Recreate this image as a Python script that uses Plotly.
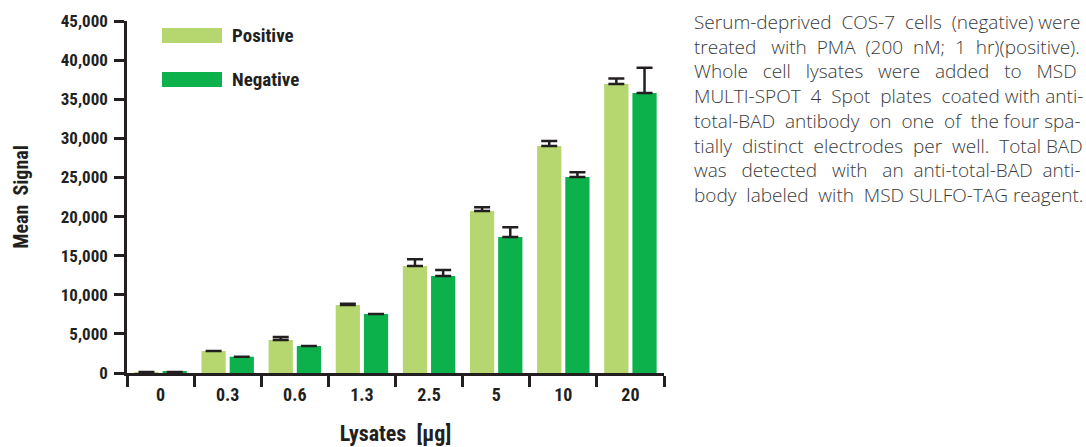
import plotly.graph_objects as go

categories = ["0", "0.3", "0.6", "1.3", "2.5", "5", "10", "20"]
positive = [120, 2810, 4220, 8690, 13680, 20710, 29020, 36950]
positive_err = [0, 0, 380, 170, 850, 470, 640, 710]
negative = [130, 2085, 3450, 7540, 12400, 17390, 25060, 35800]
negative_err = [0, 0, 0, 0, 770, 1240, 600, 3230]
y_ticks = [0, 5000, 10000, 15000, 20000, 25000, 30000, 35000, 40000, 45000]
y_tick_labels = ["0", "5,000", "10,000", "15,000", "20,000", "25,000",
                 "30,000", "35,000", "40,000", "45,000"]

description_lines = [
    "Serum-deprived COS-7 cells (negative) were",
    "treated with PMA (200 nM; 1 hr)(positive).",
    "Whole cell lysates were added to MSD",
    "MULTI-SPOT 4 Spot plates coated with anti-",
    "total-BAD antibody on one of the four spa-",
    "tially distinct electrodes per well. Total BAD",
    "was detected with an anti-total-BAD anti-",
    "body labeled with MSD SULFO-TAG reagent.",
]
# extra word-spaces per line, to imitate the justified text block
line_extra_spaces = [3, 7, 12, 4, 5, 5, 8, 3]

LIGHT = "#b6d770"
DARK = "#0db14b"
INK = "#231f20"
NARROW = "Roboto Condensed, Liberation Sans Narrow, sans-serif"

W, H = 1086, 447
PLOT_L, PLOT_R, PLOT_T, PLOT_B = 127, 664, 21, 373

fig = go.Figure()
fig.add_trace(go.Bar(
    x=categories, y=positive, name="Positive", marker_color=LIGHT,
    marker_line_width=0,
    error_y=dict(type="data", symmetric=False, array=positive_err,
                 arrayminus=[0] * len(categories), color=INK,
                 thickness=2.5, width=8),
))
fig.add_trace(go.Bar(
    x=categories, y=negative, name="Negative", marker_color=DARK,
    marker_line_width=0,
    error_y=dict(type="data", symmetric=False, array=negative_err,
                 arrayminus=[0] * len(categories), color=INK,
                 thickness=2.5, width=8),
))

fig.update_layout(
    width=W, height=H,
    margin=dict(l=PLOT_L, r=W - PLOT_R, t=PLOT_T, b=H - PLOT_B),
    paper_bgcolor="white", plot_bgcolor="white",
    barmode="group", bargap=0.16, bargroupgap=0.14,
    showlegend=False,
    font=dict(family=NARROW, color=INK, size=18),
)
fig.update_xaxes(
    type="category", showline=True, linecolor=INK, linewidth=2.5,
    ticks="outside", tickson="boundaries", ticklen=11, tickwidth=2.5,
    tickcolor=INK, showgrid=False, zeroline=False, automargin=False,
    ticklabelstandoff=4,
    tickfont=dict(family=NARROW, size=18, color=INK, weight="bold"),
    title=dict(text="Lysates  [µg]",
               font=dict(family=NARROW, size=22, color=INK, weight="bold"),
               standoff=22),
)
fig.update_yaxes(
    range=[0, 45000], tickvals=y_ticks, ticktext=y_tick_labels,
    showline=True, linecolor=INK, linewidth=2.5,
    ticks="outside", ticklen=10, tickwidth=2.5, tickcolor=INK,
    showgrid=False, zeroline=False, automargin=False,
    ticklabelstandoff=3,
    tickfont=dict(family=NARROW, size=17, color=INK, weight="bold"),
    title=dict(text="Mean  Signal",
               font=dict(family=NARROW, size=20, color=INK, weight="bold"),
               standoff=27),
)

PW, PH = PLOT_R - PLOT_L, PLOT_B - PLOT_T

# Custom legend with wide swatches
legend_items = [("Positive", LIGHT, 35.5), ("Negative", DARK, 79.5)]
for label, color, yc_px in legend_items:
    yc = (PLOT_B - yc_px) / PH
    fig.add_shape(type="rect", xref="paper", yref="paper",
                  x0=(162 - PLOT_L) / PW, x1=(222 - PLOT_L) / PW,
                  y0=yc - 7.5 / PH, y1=yc + 7.5 / PH,
                  fillcolor=color, line_width=0)
    fig.add_annotation(text=label, xref="paper", yref="paper",
                       x=(230 - PLOT_L) / PW, y=yc, xanchor="left", yanchor="middle",
                       showarrow=False,
                       font=dict(family=NARROW, size=19, color=INK, weight="bold"))


def spread(line, extra):
    words = line.split(" ")
    gaps = len(words) - 1
    counts = [extra // gaps + (1 if g < extra % gaps else 0) for g in range(gaps)]
    out = words[0]
    for g in range(gaps):
        out += " " + "&nbsp;" * counts[g] + words[g + 1]
    return out


desc_html = "<br>".join(spread(l, e) for l, e in zip(description_lines, line_extra_spaces))
fig.add_annotation(text=desc_html, xref="paper", yref="paper",
                   x=(692 - PLOT_L) / PW, y=(PLOT_B - 108) / PH,
                   xanchor="left", yanchor="middle", showarrow=False,
                   align="left",
                   font=dict(family="Open Sans, Noto Sans, sans-serif",
                             size=19, color="#3a3a3a", weight=300))

# remove the browser's default 8px page margin so the figure fills the window
fig.write_html("out.html",
               config={"displayModeBar": False},
               post_script="document.body.style.margin='0';"
                           "document.body.style.overflow='hidden';")
